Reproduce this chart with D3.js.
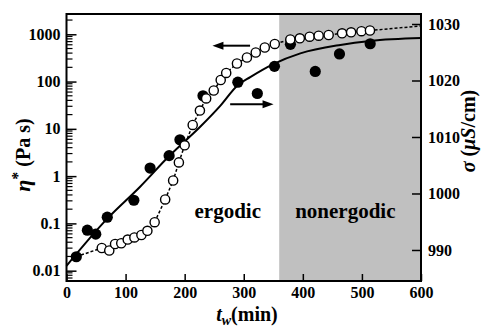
<!DOCTYPE html>
<html>
<head>
<meta charset="utf-8">
<script src="https://cdn.jsdelivr.net/npm/d3@7"></script>
<style>
html,body{margin:0;padding:0;background:#fff;}
svg{display:block;font-family:"Liberation Serif","Times New Roman",serif;font-weight:bold;}
</style>
</head>
<body>
<svg id="chart" width="488" height="327"></svg>
<script>
// ---- data ----
const xTicks = [0, 100, 200, 300, 400, 500, 600];
const etaTicks = [0.01, 0.1, 1, 10, 100, 1000];
const etaTickLabels = ["0.01", "0.1", "1", "10", "100", "1000"];
const sigmaTicks = [990, 1000, 1010, 1020, 1030];

// open circles: eta* (left axis)
const etaT = [59.7, 72.4, 82.2, 92.7, 103.6, 114.9, 126.8, 136.9, 149.2, 167, 180.5, 190.2, 200, 213.6, 225.8, 236.4, 249.2, 261, 270.3, 288.5, 305.4, 320.3, 335.6, 352.5, 378.8, 394.9, 411.5, 426.8, 443.7, 466.4, 481.7, 499.2, 513.6];
const etaV = [0.0302, 0.0267, 0.0367, 0.038, 0.0455, 0.0504, 0.0569, 0.0698, 0.106, 0.321, 0.809, 1.95, 4.49, 12.1, 24.4, 43.9, 64.7, 108, 152, 241, 323, 412, 526, 624, 776, 823, 890, 934, 967, 1050, 1102, 1163, 1203];
// dashed guide: start and end points beyond the open circles
const dashStartT = [16.6], dashStartV = [0.0198];
const dashEndT = [600], dashEndV = [1500];

// filled circles: sigma (right axis)
const sigT = [16.6, 35.3, 49.5, 69, 114, 141.5, 173.7, 192, 231, 290, 323, 352, 379, 421, 462, 514];
const sigV = [988.8, 993.5, 992.8, 995.8, 998.8, 1004.5, 1006.7, 1009.5, 1017.3, 1019.7, 1017.7, 1022.5, 1026.4, 1021.6, 1024.7, 1026.5];

// solid fit line through sigma
const fitT = [0, 68.6, 124.6, 175.4, 226.3, 260.2, 290.2, 311, 350, 395.8, 463.6, 514.4, 600];
const fitV = [987.2, 995.5, 1001.2, 1006.8, 1011.8, 1015.5, 1019.2, 1020.6, 1022.9, 1024.8, 1026.3, 1027.0, 1027.5];

const regionStart = 360;

// ---- layout ----
const L = 66.5, R = 421, T = 14, B = 281;
const svg = d3.select("#chart");

const x = d3.scaleLinear().domain([0, 600]).range([L, R]);
const yL = d3.scaleLog().domain([0.00605, 2686]).range([B, T]);
const yR = d3.scaleLinear().domain([984.51, 1031.77]).range([B, T]);

// nonergodic shading
svg.append("rect")
  .attr("x", x(regionStart)).attr("y", T)
  .attr("width", x(600) - x(regionStart)).attr("height", B - T)
  .attr("fill", "#c0c0c0");

// fit line
const fitLine = d3.line().x(d => x(d[0])).y(d => yR(d[1])).curve(d3.curveMonotoneX);
svg.append("path")
  .datum(fitT.map((t, i) => [t, fitV[i]]))
  .attr("d", fitLine).attr("fill", "none").attr("stroke", "#000").attr("stroke-width", 2);

// dashed line through open circles
const dashPts = dashStartT.map((t, i) => [t, dashStartV[i]])
  .concat(etaT.map((t, i) => [t, etaV[i]]))
  .concat(dashEndT.map((t, i) => [t, dashEndV[i]]));
svg.append("path")
  .datum(dashPts)
  .attr("d", d3.line().x(d => x(d[0])).y(d => yL(d[1])))
  .attr("fill", "none").attr("stroke", "#000").attr("stroke-width", 1.5)
  .attr("stroke-dasharray", "3,2");

// filled circles
svg.append("g").selectAll("circle")
  .data(sigT.map((t, i) => [t, sigV[i]]))
  .join("circle")
  .attr("cx", d => x(d[0])).attr("cy", d => yR(d[1])).attr("r", 5.6)
  .attr("fill", "#000");

// open circles
svg.append("g").selectAll("circle")
  .data(etaT.map((t, i) => [t, etaV[i]]))
  .join("circle")
  .attr("cx", d => x(d[0])).attr("cy", d => yL(d[1])).attr("r", 4.6)
  .attr("fill", "#fff").attr("stroke", "#000").attr("stroke-width", 1.4);

// arrows
function arrow(x1, x2, y) {
  const dir = Math.sign(x2 - x1);
  svg.append("line").attr("x1", x1).attr("x2", x2 - dir * 8).attr("y1", y).attr("y2", y)
    .attr("stroke", "#000").attr("stroke-width", 2);
  svg.append("path")
    .attr("d", `M${x2},${y} L${x2 - dir * 11},${y - 4} L${x2 - dir * 11},${y + 4} Z`)
    .attr("fill", "#000");
}
arrow(x(310.7), x(247), yL(574));
arrow(x(277), x(350.5), yR(1015.8));

// region labels
svg.append("text").attr("x", x(273)).attr("y", yL(0.13)).attr("text-anchor", "middle")
  .attr("font-size", 21).text("ergodic");
svg.append("text").attr("x", x(472)).attr("y", yL(0.13)).attr("text-anchor", "middle")
  .attr("font-size", 21).text("nonergodic");

// axes
const gx = svg.append("g").attr("transform", `translate(0,${B})`)
  .call(d3.axisBottom(x).tickValues(xTicks).tickSize(-7).tickPadding(6).tickFormat(d3.format("d")));
const gl = svg.append("g").attr("transform", `translate(${L},0)`)
  .call(d3.axisLeft(yL).tickValues(etaTicks).tickSize(-10).tickPadding(6)
    .tickFormat((d, i) => etaTickLabels[i]));
const gr = svg.append("g").attr("transform", `translate(${R},0)`)
  .call(d3.axisRight(yR).tickValues(sigmaTicks).tickSize(-9).tickPadding(7).tickFormat(d3.format("d")));

// minor log ticks
const minor = yL.ticks().filter(v => !etaTicks.some(e => Math.abs(e - v) / v < 1e-6));
svg.append("g").selectAll("line").data(minor).join("line")
  .attr("x1", L).attr("x2", L + 6).attr("y1", d => yL(d)).attr("y2", d => yL(d))
  .attr("stroke", "#000").attr("stroke-width", 1.2);

[gx, gl, gr].forEach(g => {
  g.select(".domain").remove();
  g.selectAll("line").attr("stroke", "#000").attr("stroke-width", 1.5);
  g.selectAll("text").attr("font-size", 16).attr("font-weight", "bold")
    .attr("font-family", "'Liberation Serif','Times New Roman',serif").attr("fill", "#000");
});

// frame
svg.append("rect").attr("x", L).attr("y", T).attr("width", R - L).attr("height", B - T)
  .attr("fill", "none").attr("stroke", "#000").attr("stroke-width", 2);

// axis titles
const xt = svg.append("text").attr("x", 247).attr("y", 321).attr("text-anchor", "middle").attr("font-size", 20);
xt.append("tspan").attr("font-style", "italic").text("t");
xt.append("tspan").attr("font-style", "italic").attr("font-size", 14).attr("dy", 4).text("w");
xt.append("tspan").attr("dy", -4).text("(min)");

const yt = svg.append("text").attr("transform", "translate(30,155) rotate(-90)")
  .attr("text-anchor", "middle").attr("font-size", 20);
yt.append("tspan").attr("font-style", "italic").attr("font-size", 22).text("η");
yt.append("tspan").attr("font-size", 16).attr("dy", -7).text("*");
yt.append("tspan").attr("dy", 7).text(" (Pa s)");

const rt = svg.append("text").attr("transform", "translate(475,131) rotate(-90)")
  .attr("text-anchor", "middle").attr("font-size", 20);
rt.append("tspan").attr("font-style", "italic").text("σ");
rt.append("tspan").text(" (");
rt.append("tspan").attr("font-style", "italic").text("μS");
rt.append("tspan").text("/cm)");
</script>
</body>
</html>
